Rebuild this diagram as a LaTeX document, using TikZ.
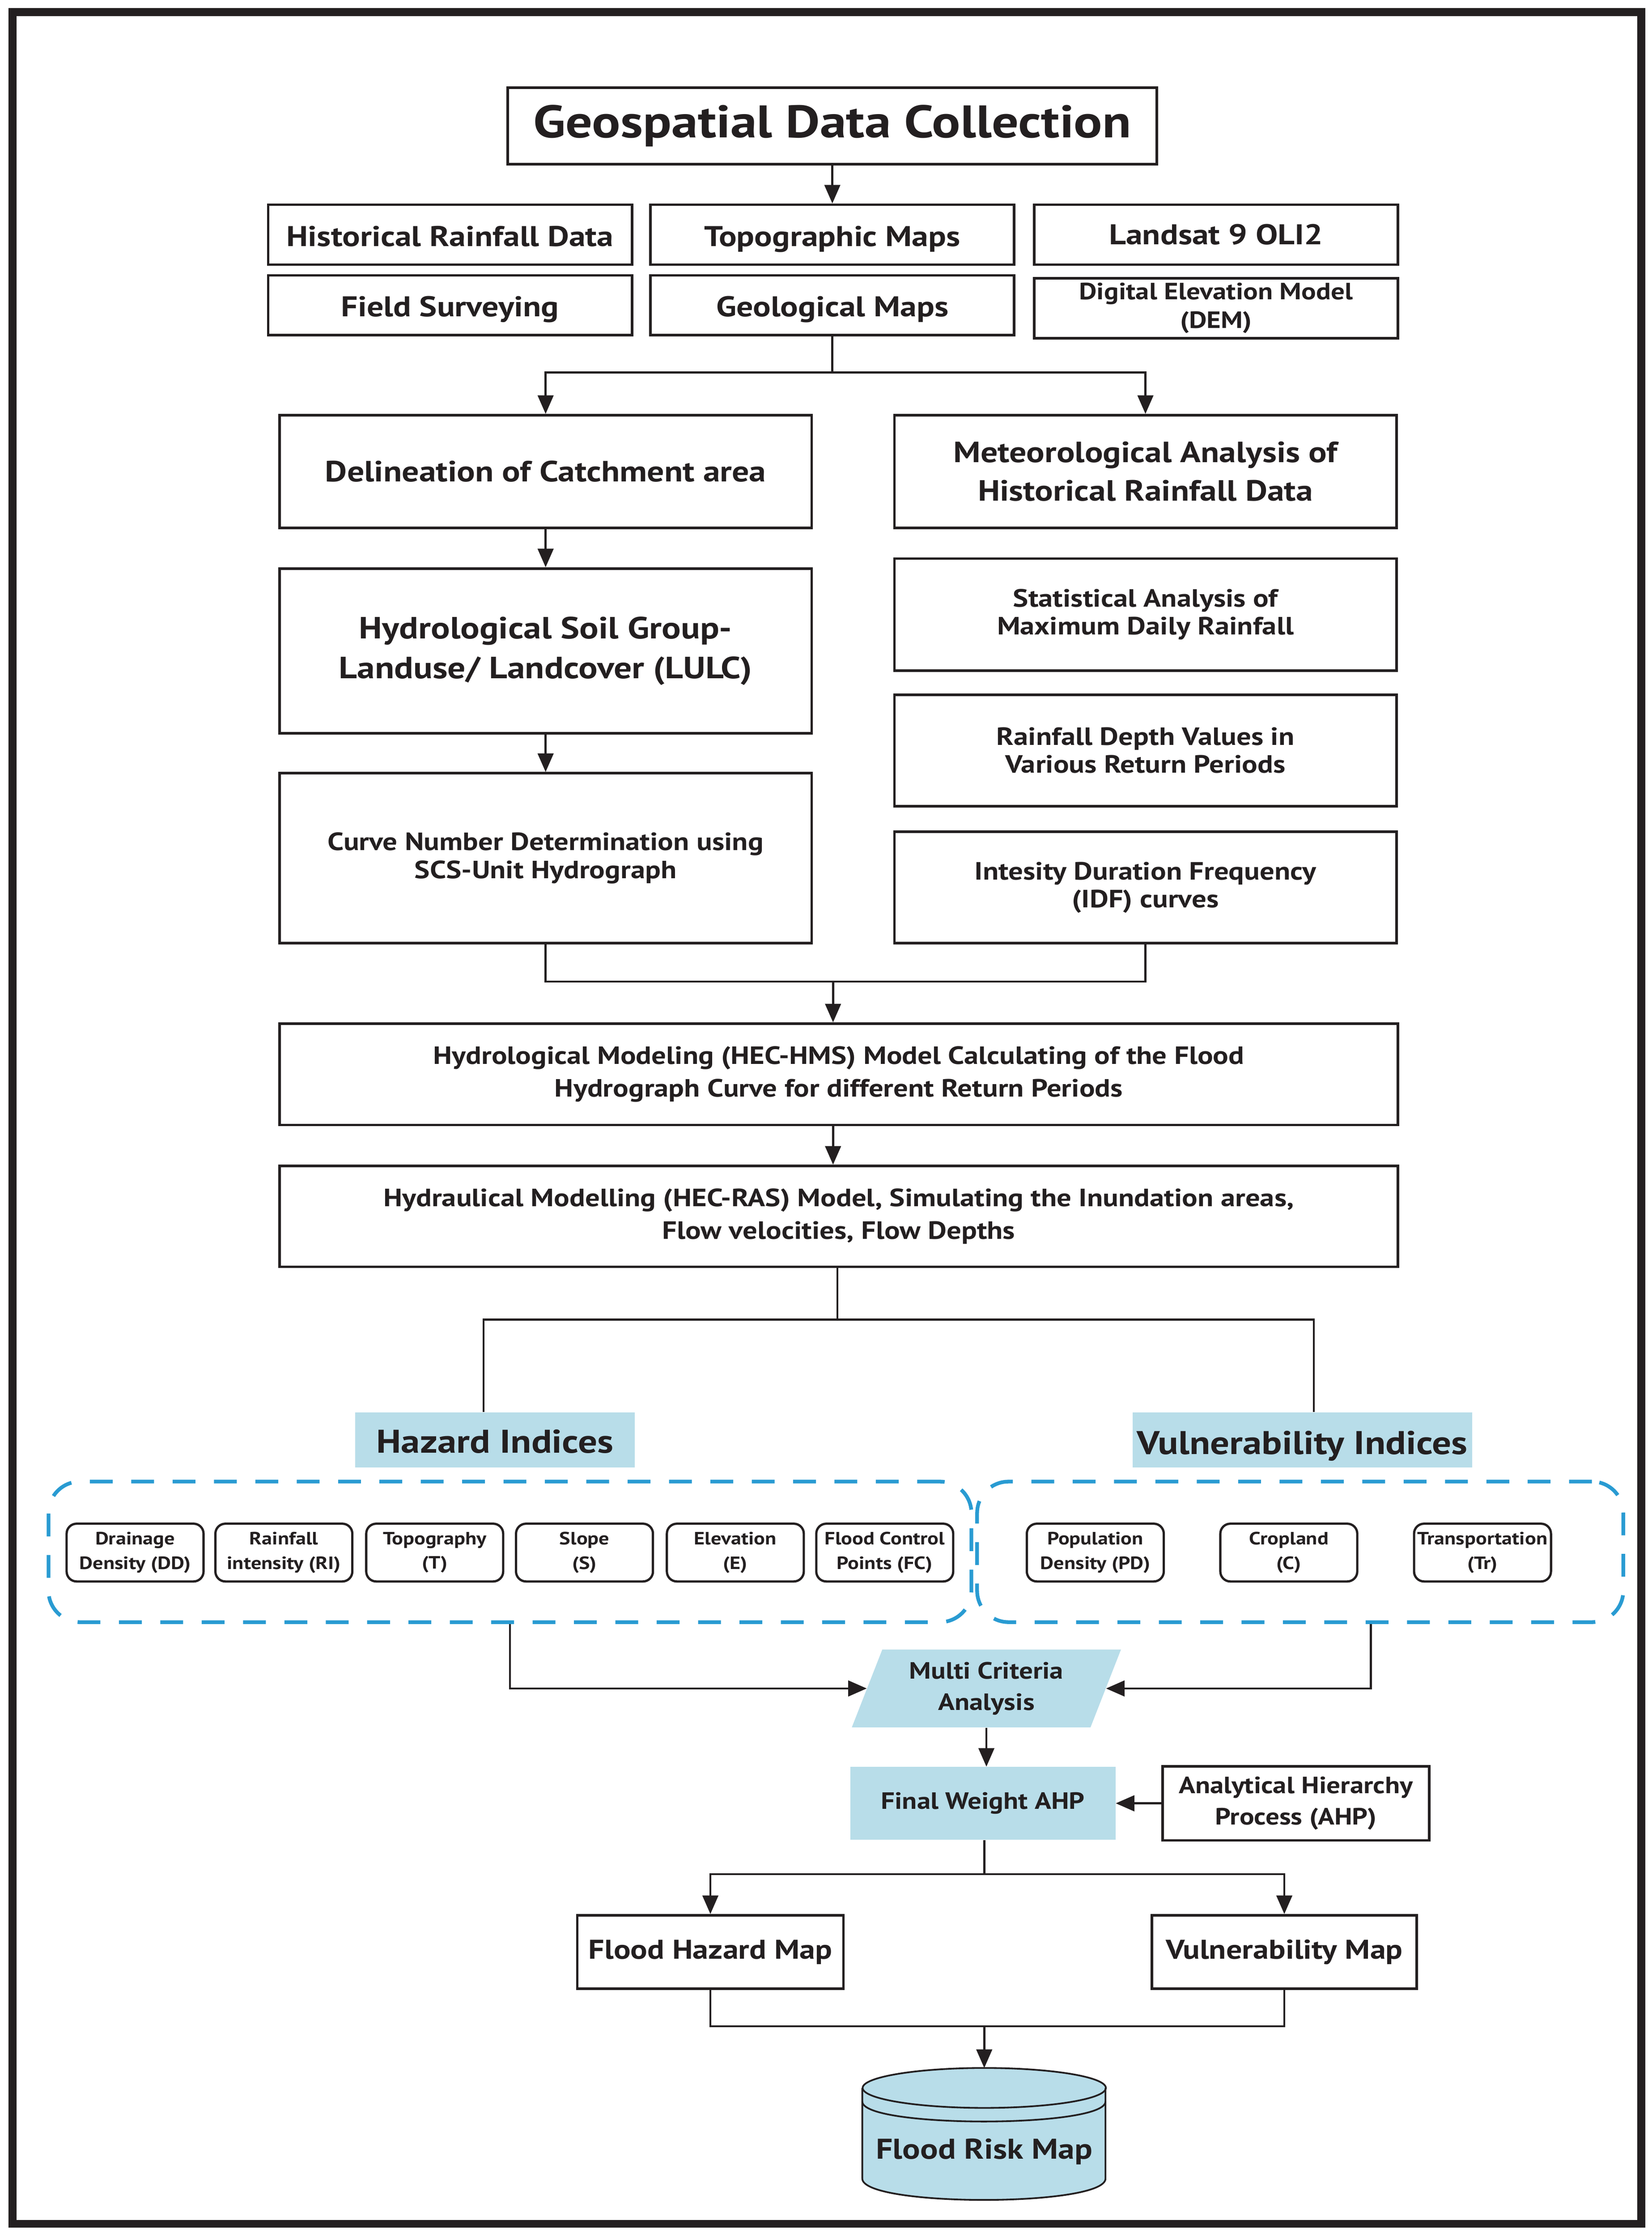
\documentclass[tikz,border=0pt]{standalone}
\usepackage{fontspec}
\setmainfont{PT Sans}[FakeStretch=1.16]
\usetikzlibrary{arrows.meta,shapes.geometric,calc}
\definecolor{ink}{HTML}{231F20}
\definecolor{lblue}{HTML}{B8DDE9}
\definecolor{dblue}{RGB}{41,155,210}
\begin{document}
\begin{tikzpicture}[x=1pt,y=-1pt,
  fs/.style 2 args={font=\fontsize{#1}{#2}\selectfont\bfseries},
  rowtxt/.style={text height=18pt, text depth=2pt},
  box/.style 2 args={draw=ink, line width=1.8pt, minimum width=#1, minimum height=#2, inner sep=0pt, align=center, text=ink},
  lbox/.style 2 args={fill=lblue, minimum width=#1, minimum height=#2, inner sep=0pt, align=center, text=ink},
  ibox/.style={draw=ink, line width=1.6pt, rounded corners=7pt, minimum width=96, minimum height=40.5, inner sep=0pt, align=center, text=ink, fs={12.5}{17}},
  dashbox/.style={draw=dblue, line width=2.6pt, dash pattern=on 16pt off 13pt, rounded corners=22pt, inner sep=0pt},
  conn/.style={draw=ink, line width=1.4pt},
  arr/.style={conn, -{Triangle[length=13pt,width=11pt]}},
  mcastyle/.style={trapezium, trapezium left angle=67, trapezium right angle=113, trapezium stretches=true, minimum width=189, minimum height=54.5, inner sep=0pt, fill=lblue, align=center, text=ink, fs={16.5}{22}}
]
\useasboundingbox (0,0) rectangle (1158,1568);
\draw[ink, line width=5.5pt] (8.7,8.5) rectangle (1150.5,1558.7);

% top
\node[box={455}{53.5}, fs={32}{36}] (geo) at (583.5,88.3) {Geospatial Data Collection};
\node[box={255}{42}, fs={20}{24}, rowtxt] (hrd) at (315.5,164.5) {Historical Rainfall Data};
\node[box={255}{42}, fs={20}{24}, rowtxt] (topo) at (583.5,164.5) {Topographic Maps};
\node[box={255}{42}, fs={20}{24}] (land) at (852.5,164.5) {Landsat 9 OLI2};
\node[box={255}{42}, fs={20}{24}, rowtxt] (field) at (315.5,214) {Field Surveying};
\node[box={255}{42}, fs={20}{24}, rowtxt] (geol) at (583.5,214) {Geological Maps};
\node[box={255}{42}, fs={16.5}{20}] (dem) at (852.5,216) {Digital Elevation Model\\(DEM)};
\draw[arr] (geo.south) -- (topo.north);

% columns
\node[box={373}{79}, fs={20.5}{27}] (del) at (382.5,330.5) {Delineation of Catchment area};
\node[box={352}{79}, fs={20.5}{27}] (met) at (803,330.5) {Meteorological Analysis of\\Historical Rainfall Data};
\node[box={373}{115.5}, fs={21.5}{28}] (hsg) at (382.5,456.25) {Hydrological Soil Group-\\Landuse/ Landcover (LULC)};
\node[box={373}{119}, fs={17.5}{19.5}] (cn) at (382.5,601.5) {Curve Number Determination using\\SCS-Unit Hydrograph};
\node[box={352}{78.5}, fs={17.5}{19.5}] (stat) at (803,430.75) {Statistical Analysis of\\Maximum Daily Rainfall};
\node[box={352}{78}, fs={17.5}{19.5}] (rd) at (803,526) {Rainfall Depth Values in\\Various Return Periods};
\node[box={352}{78}, fs={17.5}{19.5}] (idf) at (803,622) {Intesity Duration Frequency\\(IDF) curves};

\coordinate (j1) at (583.5,261);
\draw[conn] (geol.south) -- (j1);
\draw[arr] (j1) -| (del.north);
\draw[arr] (j1) -| (met.north);
\draw[arr] (del.south) -- (hsg.north);
\draw[arr] (hsg.south) -- (cn.north);

% modelling
\node[box={784}{71}, fs={17.5}{23}] (hms) at (588,753) {Hydrological Modeling (HEC-HMS) Model Calculating of the Flood\\Hydrograph Curve for different Return Periods};
\node[box={784}{70.7}, fs={17.5}{23}] (ras) at (588,852.6) {Hydraulical Modelling (HEC-RAS) Model, Simulating the Inundation areas,\\Flow velocities, Flow Depths};
\coordinate (j2) at (584,688);
\draw[conn] (cn.south) |- (j2);
\draw[conn] (idf.south) |- (j2);
\draw[arr] (j2) -- (hms.north -| j2);
\draw[arr] (hms.south -| j2) -- (ras.north -| j2);

% indices
\node[lbox={196}{38.5}, fs={23}{26}, text height=20pt, text depth=2pt] (hazl) at (347,1009.25) {Hazard Indices};
\node[lbox={238}{38.5}, fs={23}{26}, text height=22pt, text depth=2pt] (vull) at (913,1009.25) {Vulnerability Indices};
\coordinate (j3) at (587,925);
\draw[conn] (ras.south -| j3) -- (j3);
\draw[conn] (j3) -| ([xshift=-8pt]hazl.north);
\draw[conn] (j3) -| ([xshift=8pt]vull.north);

\node[dashbox, minimum width=647, minimum height=98.5] (hgrp) at (357.5,1087.75) {};
\node[dashbox, minimum width=453, minimum height=98.5] (vgrp) at (911.5,1087.75) {};

\node[ibox] (dd) at (94.7,1088.25) {Drainage\\Density (DD)};
\node[ibox] (ri) at (199,1088.25) {Rainfall\\intensity (RI)};
\node[ibox] (tp) at (304.75,1088.25) {Topography\\(T)};
\node[ibox] (sl) at (409.75,1088.25) {Slope\\(S)};
\node[ibox] (el) at (515.5,1088.25) {Elevation\\(E)};
\node[ibox] (fc) at (620.25,1088.25) {Flood Control\\Points (FC)};
\node[ibox] (pd) at (767.85,1088.25) {Population\\Density (PD)};
\node[ibox] (cr) at (903.5,1088.25) {Cropland\\(C)};
\node[ibox] (tr) at (1039.3,1088.25) {Transportation\\(Tr)};

% analysis
\node[mcastyle] (mca) at (691.5,1183.5) {Multi Criteria\\Analysis};
\draw[arr] (hgrp.south) |- (mca.west);
\draw[arr] ([xshift=49.5pt]vgrp.south) |- (mca.east);

\node[lbox={186}{51}, fs={16.5}{20}] (fw) at (689,1264) {Final Weight AHP};
\node[box={187}{52}, fs={16.5}{22}] (ahp) at (908.5,1264) {Analytical Hierarchy\\Process (AHP)};
\draw[arr] (mca.south) -- (mca.south |- fw.north);
\draw[arr] (ahp.west) -- (fw.east);

\node[box={186.6}{51.5}, fs={19}{23}] (fhm) at (498,1368.25) {Flood Hazard Map};
\node[box={185.7}{51.5}, fs={19}{23}] (vm) at (900.35,1368.25) {Vulnerability Map};
\coordinate (j4) at (690,1313.7);
\draw[conn] (fw.south -| j4) -- (j4);
\draw[arr] (j4) -| (fhm.north);
\draw[arr] (j4) -| (vm.north);

% cylinder
\fill[lblue] (604.5,1463.5) -- (604.5,1527) .. controls (604.5,1547) and (775,1547) .. (775,1527) -- (775,1463.5) .. controls (775,1444.8) and (604.5,1444.8) .. cycle;
\draw[ink, line width=1.2pt] (604.5,1463.5) -- (604.5,1527) .. controls (604.5,1547) and (775,1547) .. (775,1527) -- (775,1463.5);
\draw[ink, line width=1.2pt] (690,1463.5) ellipse [x radius=85.25, y radius=14];
\draw[ink, line width=1.2pt] (604.5,1473) .. controls (604.5,1491.7) and (775,1491.7) .. (775,1473);
\coordinate (frmtop) at (690,1449.5);
\node[fs={20}{24}, text=ink] (frm) at (690,1508) {Flood Risk Map};

\coordinate (j5) at (690,1420.3);
\draw[conn] (fhm.south) |- (j5);
\draw[conn] (vm.south) |- (j5);
\draw[arr] (j5) -- (frmtop);
\end{tikzpicture}
\end{document}
